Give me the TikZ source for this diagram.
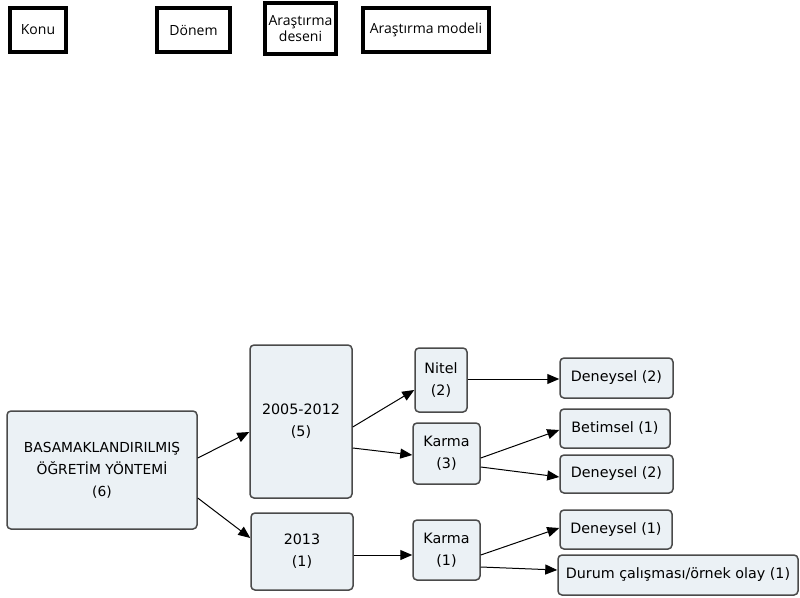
\documentclass[tikz,border=0pt]{standalone}
\usepackage{fontspec}
\setmainfont{DejaVu Sans}
\newfontfamily\headfont{Open Sans}
\usetikzlibrary{arrows.meta}
\definecolor{boxfill}{HTML}{EBF1F5}
\definecolor{boxline}{HTML}{4A4A4A}

\begin{document}
\begin{tikzpicture}[x=1pt,y=-1pt,
  head/.style={draw=black,line width=3.2pt,font=\headfont\fontsize{14}{16}\selectfont,
               inner sep=0pt,align=center},
  b/.style={draw=boxline,fill=boxfill,line width=1.5pt,rounded corners=4pt,
            inner sep=0pt,align=center,font=\fontsize{14.3}{22}\selectfont},
  ar/.style={-{Triangle[length=12pt,width=10pt]},line width=1pt}]
\useasboundingbox (0,0) rectangle (800,597);
% column headers
\node[head,minimum width=56pt,minimum height=44pt] (konu) at (38,30) {Konu};
\node[head,minimum width=73pt,minimum height=44pt] (donem) at (193.5,30) {Dönem};
\node[head,minimum width=71pt,minimum height=51pt] (desen) at (300.5,28.5) {Araştırma\\deseni};
\node[head,minimum width=126pt,minimum height=44pt] (model) at (426,30) {Araştırma modeli};
% tree
\node[b,minimum width=190pt,minimum height=118pt,font=\fontsize{13.8}{22}\selectfont] (konub) at (102,470) {BASAMAKLANDIRILMIŞ\\ÖĞRETİM YÖNTEMİ\\(6)};
\node[b,minimum width=102pt,minimum height=153pt] (d1) at (301,421.5) {2005-2012\\(5)};
\node[b,minimum width=102pt,minimum height=77pt] (d2) at (302,551.5) {2013\\(1)};
\node[b,minimum width=52pt,minimum height=64pt] (nitel) at (441,380) {Nitel\\(2)};
\node[b,minimum width=67pt,minimum height=61pt] (karma3) at (446.5,453.5) {Karma\\(3)};
\node[b,minimum width=67pt,minimum height=60pt] (karma1) at (446.5,550) {Karma\\(1)};
\node[b,minimum width=113pt,minimum height=40pt] (den1) at (616.5,378) {Deneysel (2)};
\node[b,minimum width=110pt,minimum height=39pt] (bet) at (615,428.5) {Betimsel (1)};
\node[b,minimum width=113pt,minimum height=38pt] (den2) at (616.5,474) {Deneysel (2)};
\node[b,minimum width=112pt,minimum height=39pt] (den3) at (616,529.5) {Deneysel (1)};
\node[b,minimum width=240pt,minimum height=40pt] (durum) at (678,575) {Durum çalışması/örnek olay (1)};
\draw[ar] ([yshift=12pt]konub.east) -- ([yshift=-10.5pt]d1.west);
\draw[ar] ([yshift=-28pt]konub.east) -- ([yshift=13.5pt]d2.west);
\draw[ar] ([yshift=-5.5pt]d1.east) -- ([yshift=-10pt]nitel.west);
\draw[ar] ([yshift=-26.5pt]d1.east) -- ([yshift=-1.5pt]karma3.west);
\draw[ar] ([yshift=-3.5pt]d2.east) -- ([yshift=-5pt]karma1.west);
\draw[ar] ([yshift=1pt]nitel.east) -- ([yshift=-1pt]den1.west);
\draw[ar] ([yshift=-4.5pt]karma3.east) -- ([yshift=-1.5pt]bet.west);
\draw[ar] ([yshift=-13.5pt]karma3.east) -- ([yshift=-3pt]den2.west);
\draw[ar] ([yshift=-5pt]karma1.east) -- ([yshift=1.5pt]den3.west);
\draw[ar] ([yshift=-17pt]karma1.east) -- ([yshift=5pt]durum.west);
\end{tikzpicture}
\end{document}
